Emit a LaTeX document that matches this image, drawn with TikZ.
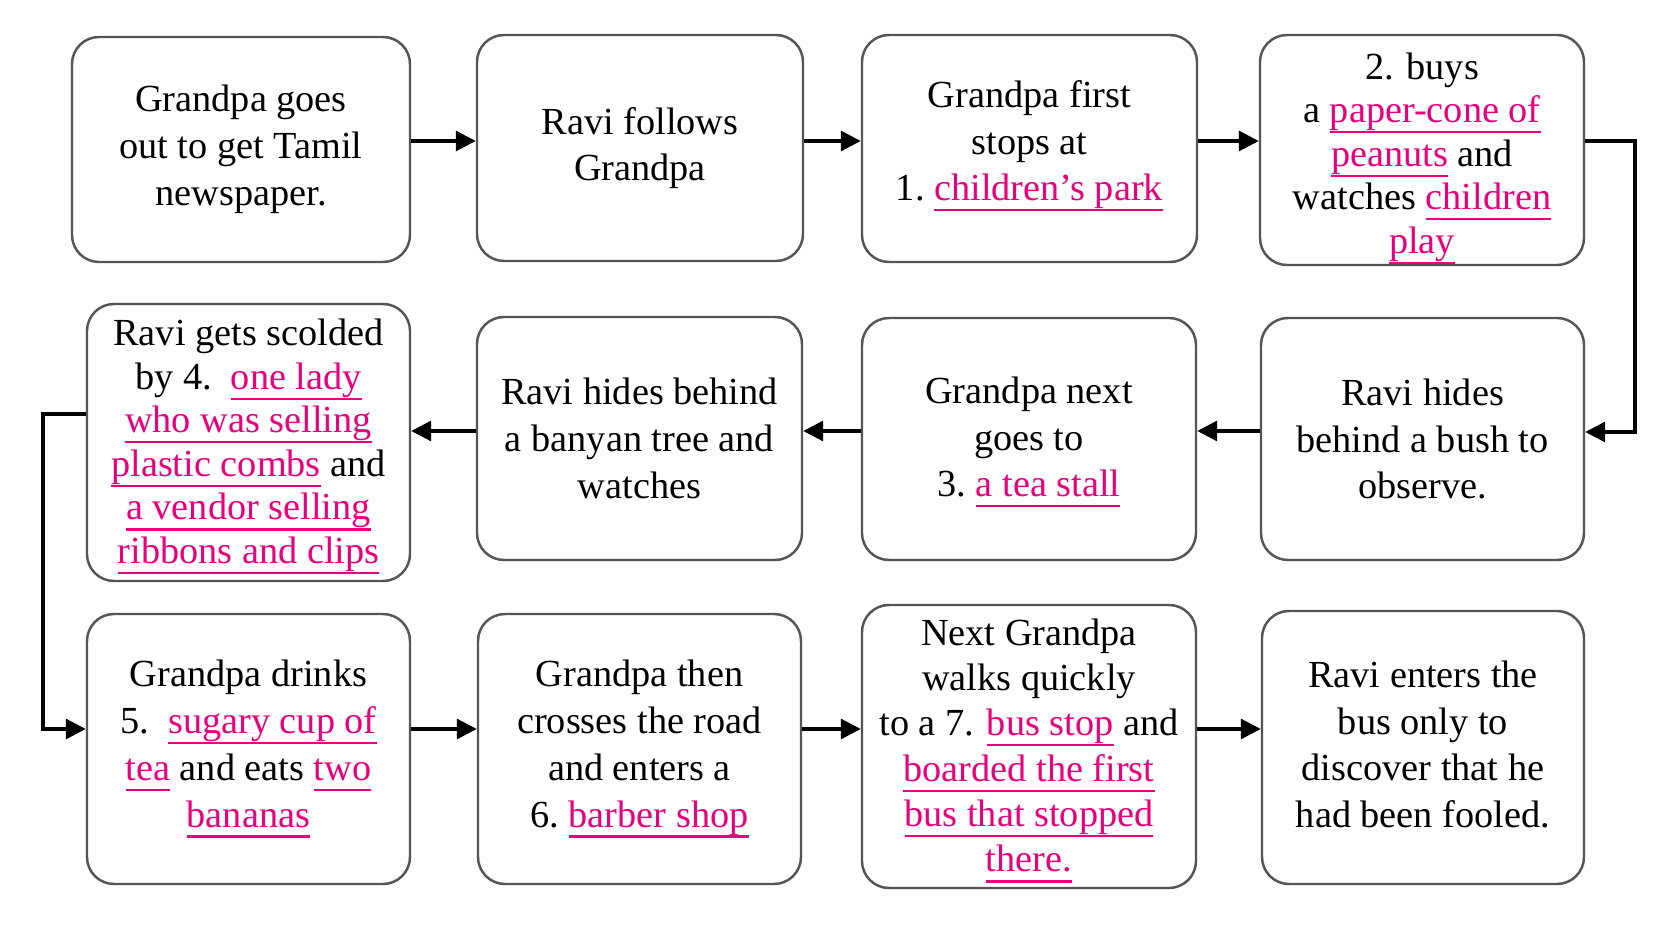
\documentclass[tikz,border=0pt]{standalone}
\usepackage{fontspec}
\setmainfont{Liberation Serif}
\usetikzlibrary{arrows.meta}
\definecolor{pk}{HTML}{E8007D}
\definecolor{bd}{HTML}{555555}
\newsavebox\pkbox
\newcommand\pk[1]{\sbox\pkbox{#1}\textcolor{pk}{\rlap{\rule[-3.0pt]{\wd\pkbox}{0.65pt}}#1}}
\newcommand\dn[1]{\rule{0pt}{\dimexpr7.5pt+2\dimexpr#1\relax\relax}}
\tikzset{
  box/.style={draw=bd, line width=0.7pt, rounded corners=2.7mm, fill=white,
    align=center, inner sep=0pt, font=\fontsize{10.9}{13.3}\selectfont},
  tight/.style={font=\fontsize{10.9}{12.4}\selectfont},
  mid/.style={font=\fontsize{10.9}{12.9}\selectfont},
  arr/.style={line width=0.9pt, -{Triangle[length=2mm,width=2mm]}},
}
\newcommand\bx[7][]{% opts, name, x1, y1, x2, y2, text
  \node[box, #1, minimum width={(#5-#3)*0.1mm}, minimum height={(#6-#4)*0.1mm}]
    (#2) at ({(#3+#5)/2},{(#4+#6)/2}) {#7};}
\begin{document}
\begin{tikzpicture}[x=0.1mm,y=-0.1mm]
\useasboundingbox[fill=white] (0,0) rectangle (1672,941);
\bx{b1}{72}{37}{410}{262}{Grandpa goes\\ out to get Tamil\\ newspaper.}
\bx{b2}{477}{35}{803}{261}{Ravi follows\\ Grandpa}
\bx{b3}{862}{35}{1197}{262}{Grandpa first\\ stops at\\ 1.\ \pk{children’s park}\rule[-4.5pt]{0pt}{4.5pt}}
\bx[tight]{b4}{1260}{35}{1584}{265}{\dn{2.4pt}2. buys\\ a \pk{paper-cone of}\\ \pk{peanuts} and\\ watches \pk{children}\\ \pk{play}}
\bx[tight]{b5}{87}{304}{410}{581}{\dn{1.2pt}Ravi gets scolded\\ by 4.\ \ \pk{one lady}\\ \pk{who was selling}\\ \pk{plastic combs} and\\ \pk{a vendor selling}\\ \pk{ribbons and clips}}
\bx{b6}{477}{317}{802}{560}{Ravi hides behind\\ a banyan tree and\\ watches}
\bx{b7}{862}{318}{1196}{560}{\dn{0.9pt}Grandpa next\\ goes to\\ 3.\ \pk{a tea stall}}
\bx{b8}{1261}{318}{1584}{560}{Ravi hides\\ behind a bush to\\ observe.}
\bx{b9}{87}{614}{410}{884}{Grandpa drinks\\ 5.\ \ \pk{sugary cup of}\\ \pk{tea} and eats \pk{two}\\ \pk{bananas}}
\bx{b10}{478}{614}{801}{884}{Grandpa then\\ crosses the road\\ and enters a\\ 6.\ \pk{barber shop}}
\bx[mid]{b11}{862}{605}{1196}{888}{\dn{1.2pt}Next Grandpa\\ walks quickly\\ to a 7. \pk{bus stop} and\\ \pk{boarded the first}\\ \pk{bus that stopped}\\ \pk{there.}}
\bx{b12}{1262}{611}{1584}{884}{Ravi enters the\\ bus only to\\ discover that he\\ had been fooled.\rule[-1.8pt]{0pt}{1.8pt}}
\draw[arr] (b1.east |- 0,141) -- (b2.west |- 0,141);
\draw[arr] (b2.east |- 0,141) -- (b3.west |- 0,141);
\draw[arr] (b3.east |- 0,141) -- (b4.west |- 0,141);
\coordinate (r1) at (1635,141);
\coordinate (r2) at (1635,432);
\draw[arr] (b4.east |- r1) -- (r1) -- (r2) -- (b8.east |- r2);
\draw[arr] (b8.west |- 0,431) -- (b7.east |- 0,431);
\draw[arr] (b7.west |- 0,431) -- (b6.east |- 0,431);
\draw[arr] (b6.west |- 0,431) -- (b5.east |- 0,431);
\coordinate (l1) at (43,414);
\coordinate (l2) at (43,729);
\draw[arr] (b5.west |- l1) -- (l1) -- (l2) -- (b9.west |- l2);
\draw[arr] (b9.east |- 0,729) -- (b10.west |- 0,729);
\draw[arr] (b10.east |- 0,729) -- (b11.west |- 0,729);
\draw[arr] (b11.east |- 0,729) -- (b12.west |- 0,729);
\end{tikzpicture}
\end{document}
